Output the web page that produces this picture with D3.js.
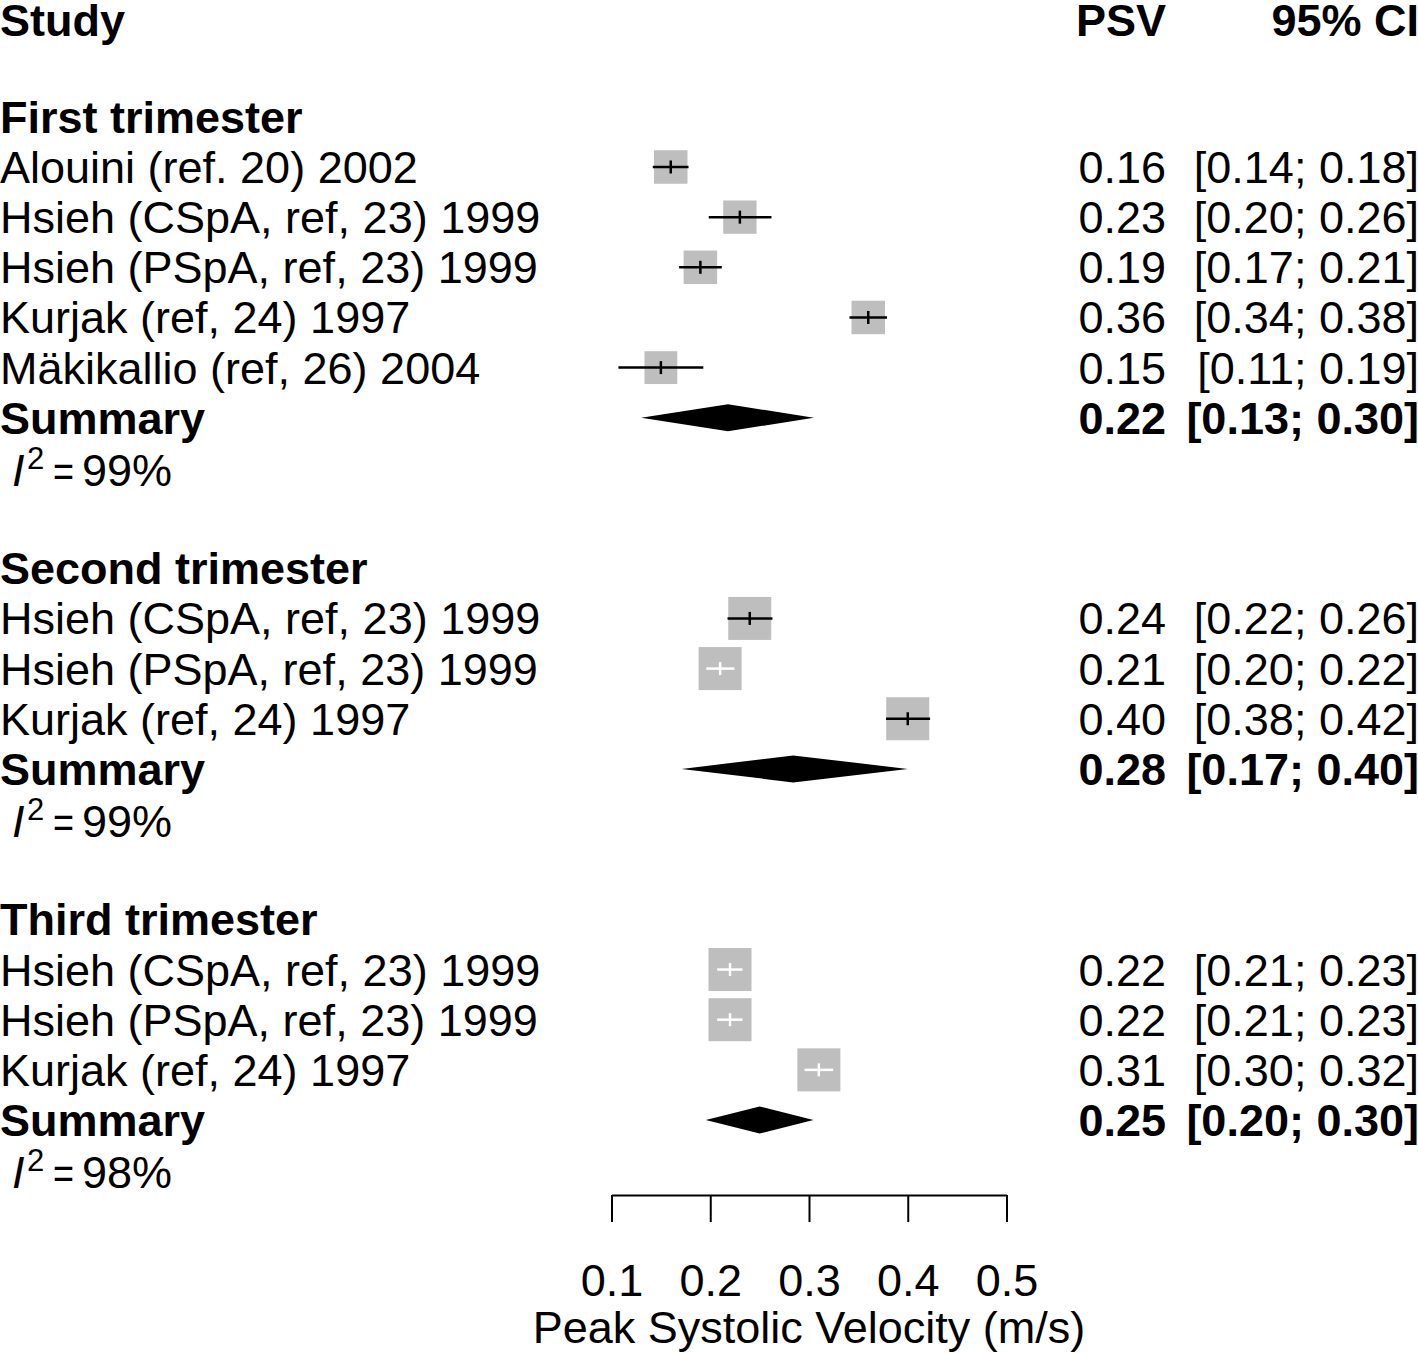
<!DOCTYPE html>
<html>
<head>
<meta charset="utf-8">
<script src="https://cdn.jsdelivr.net/npm/d3@7"></script>
<style>
  html, body { margin: 0; padding: 0; background: #fff; }
  svg { display: block; font-family: "Liberation Sans", Arial, Helvetica, sans-serif; }
</style>
</head>
<body>
<svg id="chart" width="1418" height="1353"></svg>
<script>
// ---------------- data ----------------
const groupNames = ["First trimester", "Second trimester", "Third trimester"];
const studyLabels = [
  "Alouini (ref. 20) 2002",
  "Hsieh (CSpA, ref, 23) 1999",
  "Hsieh (PSpA, ref, 23) 1999",
  "Kurjak (ref, 24) 1997",
  "Mäkikallio (ref, 26) 2004",
  "Hsieh (CSpA, ref, 23) 1999",
  "Hsieh (PSpA, ref, 23) 1999",
  "Kurjak (ref, 24) 1997",
  "Hsieh (CSpA, ref, 23) 1999",
  "Hsieh (PSpA, ref, 23) 1999",
  "Kurjak (ref, 24) 1997"
];
const studyGroup = [0, 0, 0, 0, 0, 1, 1, 1, 2, 2, 2];
const psv    = [0.16, 0.23, 0.19, 0.36, 0.15, 0.24, 0.21, 0.40, 0.22, 0.22, 0.31];
const ciLow  = [0.1418, 0.1985, 0.1685, 0.341, 0.107, 0.2175, 0.196, 0.378, 0.207, 0.207, 0.2955];
const ciHigh = [0.178, 0.262, 0.2117, 0.379, 0.193, 0.263, 0.2245, 0.4226, 0.2327, 0.2327, 0.3245];
const weights = [20.2, 20.0, 20.2, 20.2, 19.4, 33.3, 33.3, 33.3, 33.3, 33.3, 33.3];
const summaryPsv  = [0.218, 0.284, 0.25];
const summaryLow  = [0.130, 0.171, 0.1955];
const summaryHigh = [0.3049, 0.40, 0.3045];
const i2Values = [99, 99, 98];
const xTicks = [0.1, 0.2, 0.3, 0.4, 0.5];
const xLabel = "Peak Systolic Velocity (m/s)";

// ---------------- layout ----------------
const svg = d3.select("#chart");
const FS = 45;
const x = d3.scaleLinear().domain([0.1, 0.5]).range([611.5, 1006.5]);
const rowY = d3.scaleLinear().domain([0, 22]).range([16.5, 16.5 + 22 * 50.16]);
const xEst = 1166, xCI = 1419;
const fmt = v => v.toFixed(2);
const LW = 2.5;

function txt(xp, yp, s, opts = {}) {
  return svg.append("text")
    .attr("x", xp).attr("y", yp)
    .attr("font-size", opts.size || FS)
    .attr("font-weight", opts.bold ? "bold" : "normal")
    .attr("text-anchor", opts.anchor || "start")
    .attr("fill", "#000")
    .text(s);
}

// headers
txt(0, rowY(0) + 19, "Study", {bold: true});
txt(xEst, rowY(0) + 19, "PSV", {bold: true, anchor: "end"});
txt(xCI, rowY(0) + 19, "95% CI", {bold: true, anchor: "end"});

let r = 1;
groupNames.forEach((g, gi) => {
  r += 1; // blank row
  txt(0, rowY(r) + 16, g, {bold: true});
  r += 1;
  studyLabels.forEach((lab, i) => {
    if (studyGroup[i] !== gi) return;
    const y = rowY(r);
    txt(0, y + 16, lab);
    txt(xEst, y + 16, fmt(psv[i]), {anchor: "end"});
    txt(xCI, y + 16, "[" + fmt(ciLow[i]) + "; " + fmt(ciHigh[i]) + "]", {anchor: "end"});
    const side = 43 * Math.sqrt(weights[i] / 33.3);
    svg.append("rect")
      .attr("x", x(psv[i]) - side / 2).attr("y", y - side / 2)
      .attr("width", side).attr("height", side)
      .attr("fill", "#bebebe");
    const inside = (x(ciHigh[i]) - x(ciLow[i])) < side;
    const col = inside ? "#fff" : "#000";
    svg.append("line")
      .attr("x1", x(ciLow[i])).attr("x2", x(ciHigh[i]))
      .attr("y1", y).attr("y2", y)
      .attr("stroke", col).attr("stroke-width", LW);
    svg.append("line")
      .attr("x1", x(psv[i])).attr("x2", x(psv[i]))
      .attr("y1", y - 6.5).attr("y2", y + 6.5)
      .attr("stroke", col).attr("stroke-width", LW);
    r += 1;
  });
  // summary
  const ys = rowY(r);
  txt(0, ys + 16, "Summary", {bold: true});
  txt(xEst, ys + 16, fmt(summaryPsv[gi]), {bold: true, anchor: "end"});
  txt(xCI, ys + 16, "[" + fmt(summaryLow[gi]) + "; " + fmt(summaryHigh[gi]) + "]", {bold: true, anchor: "end"});
  const h = 13.5;
  svg.append("path")
    .attr("d", `M${x(summaryLow[gi])},${ys} L${x(summaryPsv[gi])},${ys - h} L${x(summaryHigh[gi])},${ys} L${x(summaryPsv[gi])},${ys + h} Z`)
    .attr("fill", "#000");
  r += 1;
  // heterogeneity
  const yi = rowY(r) + 2;
  const t = svg.append("text").attr("y", yi + 16).attr("font-size", FS).attr("fill", "#000");
  t.append("tspan").attr("x", 12).attr("font-style", "italic").text("I");
  t.append("tspan").attr("x", 27).attr("font-size", 31).attr("dy", -17).text("2");
  t.append("tspan").attr("x", 53).attr("dy", 17).attr("textLength", 21).attr("lengthAdjust", "spacingAndGlyphs").text("=");
  t.append("tspan").attr("x", 82).text(i2Values[gi] + "%");
  r += 1;
});

// axis
const axisY = 1195;
const axis = d3.axisBottom(x).tickValues(xTicks).tickFormat(d3.format(".1f"))
  .tickSizeInner(27).tickSizeOuter(0).tickPadding(42);
const ag = svg.append("g").attr("transform", `translate(0,${axisY})`).call(axis);
ag.select(".domain").attr("stroke", "#000").attr("stroke-width", 2);
ag.selectAll(".tick line").attr("stroke", "#000").attr("stroke-width", 2);
ag.selectAll(".tick text").attr("font-size", FS).attr("fill", "#000")
  .attr("font-family", "'Liberation Sans', Arial, Helvetica, sans-serif");
txt(x(0.3), 1343, xLabel, {anchor: "middle"});
</script>
</body>
</html>
